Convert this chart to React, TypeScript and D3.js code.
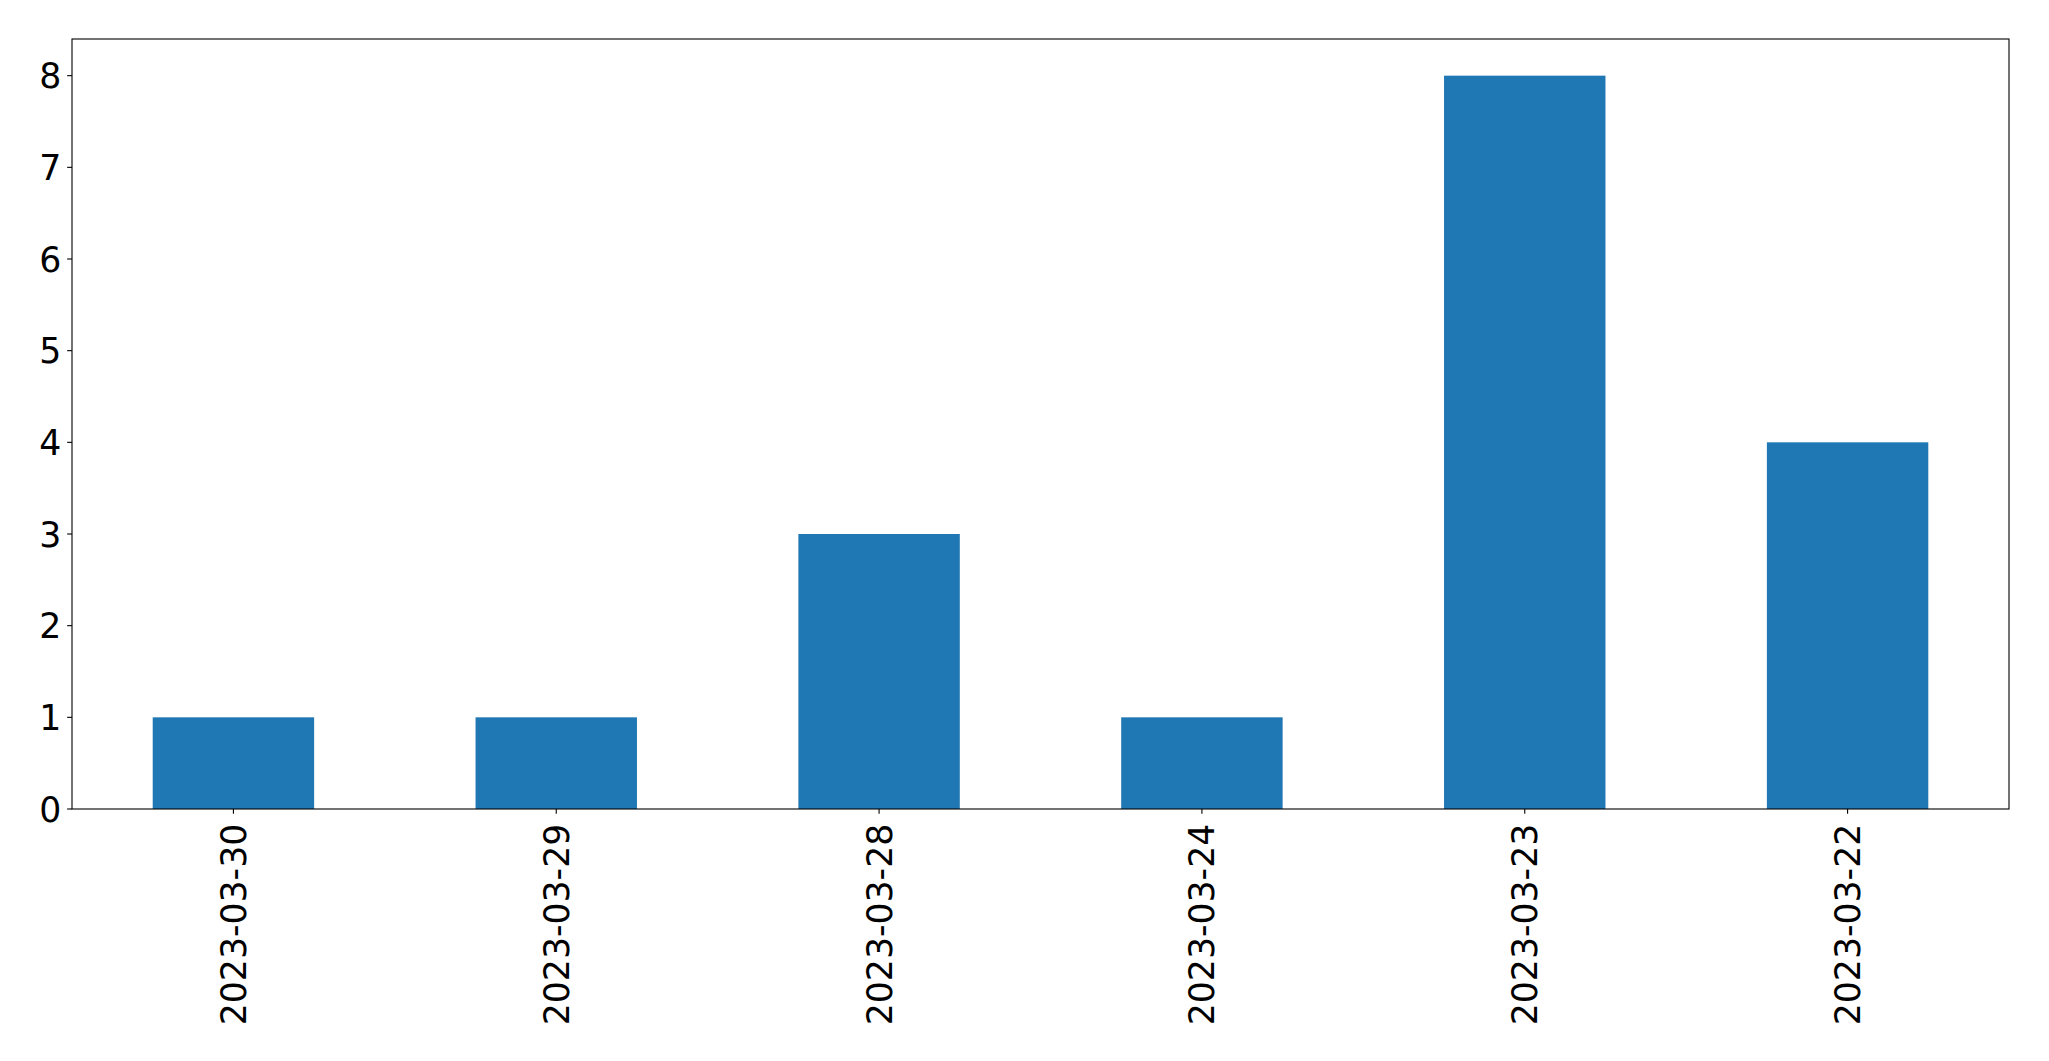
import React from 'react';
import * as d3 from 'd3';

const categories = ['2023-03-30', '2023-03-29', '2023-03-28', '2023-03-24', '2023-03-23', '2023-03-22'];
const counts = [1, 1, 3, 1, 8, 4];
const yTicks = [0, 1, 2, 3, 4, 5, 6, 7, 8];

const W = 2049;
const H = 1061;
const margin = { top: 39, right: 40, bottom: 252, left: 72 };
const FONT = 'DejaVu Sans, sans-serif';
const FS = 34.7;
const TICK = 4.86;
const PAD = 4.86;

const App = () => {
    const innerW = W - margin.left - margin.right;
    const innerH = H - margin.top - margin.bottom;

    // pandas style: each category gets a unit slot, bar width 0.5
    const xScale = d3.scaleLinear().domain([-0.5, categories.length - 0.5]).range([0, innerW]);
    const yScale = d3.scaleLinear().domain([0, d3.max(counts)! * 1.05]).range([innerH, 0]);
    const barW = xScale(0.25) - xScale(-0.25);

    return (
        <svg width={W} height={H} style={{ position: 'absolute', left: 0, top: 0, display: 'block', background: '#fff' }}>
            <g transform={`translate(${margin.left},${margin.top})`}>
                {counts.map((v, i) => (
                    <rect key={categories[i]}
                        x={xScale(i) - barW / 2}
                        y={yScale(v)}
                        width={barW}
                        height={yScale(0) - yScale(v)}
                        fill="#1f77b4" />
                ))}

                {/* y axis ticks */}
                {yTicks.map((t) => (
                    <g key={t} transform={`translate(0,${yScale(t)})`}>
                        <line x1={-TICK} x2={0} stroke="#000" strokeWidth={1.1} />
                        <text x={-TICK - PAD - 1} dy="0.36em" textAnchor="end"
                            fontFamily={FONT} fontSize={FS} fill="#000">{t}</text>
                    </g>
                ))}

                {/* x axis ticks */}
                {categories.map((c, i) => (
                    <g key={c} transform={`translate(${xScale(i)},${innerH})`}>
                        <line y1={0} y2={TICK} stroke="#000" strokeWidth={1.1} />
                        <text transform={`translate(0,${TICK + PAD + 5}) rotate(-90)`}
                            dy="0.36em" textAnchor="end"
                            fontFamily={FONT} fontSize={FS} fill="#000">{c}</text>
                    </g>
                ))}

                <rect x={0} y={0} width={innerW} height={innerH} fill="none" stroke="#000" strokeWidth={1.1} />
            </g>
        </svg>
    );
};

export default App;
